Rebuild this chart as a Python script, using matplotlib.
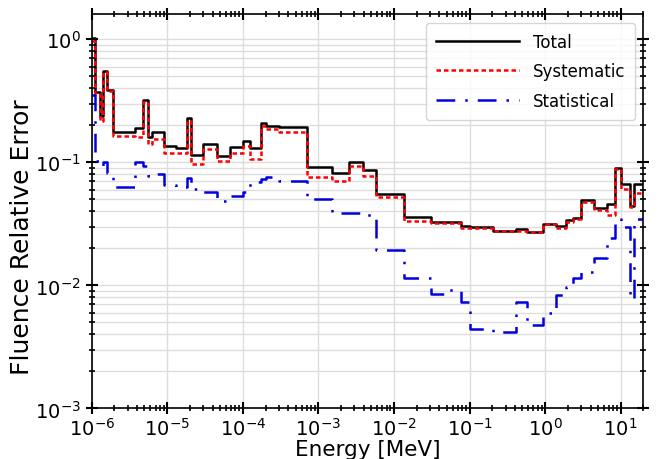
import numpy as np
import matplotlib
matplotlib.use("Agg")
import matplotlib.pyplot as plt
from matplotlib.ticker import LogLocator, NullFormatter

# Bin edges [MeV]
edges = [1.0e-6, 1.11e-6, 1.28e-6, 1.40e-6, 1.58e-6, 1.90e-6, 3.71e-6, 4.74e-6,
         5.52e-6, 6.23e-6, 9.0e-6, 1.30e-5, 1.81e-5, 2.05e-5, 2.95e-5, 4.53e-5,
         6.73e-5, 1.0e-4, 1.24e-4, 1.73e-4, 2.02e-4, 3.0e-4, 7.04e-4, 1.51e-3,
         2.54e-3, 3.88e-3, 5.78e-3, 1.36e-2, 3.09e-2, 5.19e-2, 7.71e-2, 0.1016,
         0.205, 0.413, 0.578, 0.942, 1.40, 1.90, 2.35, 3.0, 4.46, 6.62, 8.45,
         10.2, 13.4, 15.1, 20.0]

total = [1.02, 0.37, 0.237, 0.55, 0.39, 0.175, 0.19, 0.32, 0.16, 0.178, 0.137,
         0.131, 0.228, 0.115, 0.14, 0.112, 0.133, 0.149, 0.13, 0.207, 0.199,
         0.193, 0.0916, 0.0813, 0.1, 0.086, 0.0557, 0.0357, 0.0328, 0.0328,
         0.0305, 0.0297, 0.0277, 0.0285, 0.0273, 0.0317, 0.0303, 0.0337, 0.0355,
         0.049, 0.0428, 0.0455, 0.0905, 0.067, 0.044, 0.067]

systematic = [0.97, 0.357, 0.217, 0.54, 0.38, 0.164, 0.16, 0.31, 0.14, 0.154,
              0.12, 0.118, 0.217, 0.097, 0.128, 0.103, 0.12, 0.135, 0.106, 0.197,
              0.186, 0.178, 0.0765, 0.071, 0.0925, 0.0775, 0.0523, 0.0334, 0.032,
              0.032, 0.0293, 0.029, 0.0277, 0.0277, 0.0272, 0.0314, 0.029, 0.0327,
              0.0347, 0.048, 0.041, 0.0376, 0.0877, 0.061, 0.043, 0.0567]

statistical = [0.35, 0.102, 0.094, 0.1, 0.082, 0.063, 0.1, 0.093, 0.078, 0.08,
               0.066, 0.063, 0.075, 0.061, 0.057, 0.0485, 0.053, 0.057, 0.069,
               0.073, 0.0757, 0.0706, 0.05, 0.0385, 0.039, 0.0372, 0.0193, 0.01155,
               0.0085, 0.0092, 0.0073, 0.00445, 0.0042, 0.0073, 0.0048, 0.006,
               0.0083, 0.0097, 0.0114, 0.0128, 0.0168, 0.0241, 0.0348, 0.030,
               0.0077, 0.0348]

labels = ["Total", "Systematic", "Statistical"]

fig = plt.figure(figsize=(6.64, 4.60), dpi=100)
ax = fig.add_axes([0.138, 0.110, 0.831, 0.857])

x = np.array(edges)
def stepy(v):
    v = np.array(v)
    return np.append(v, v[-1])

ax.step(x, stepy(total), where='post', color='black', lw=1.8, label=labels[0])
ax.step(x, stepy(systematic), where='post', color='#ff0000', lw=1.8,
        linestyle=(0, (1.8, 1.2)), label=labels[1])
ax.step(x, stepy(statistical), where='post', color='#0000dd', lw=1.8,
        linestyle=(0, (7.5, 4, 1, 4)), label=labels[2])

ax.set_xscale('log')
ax.set_yscale('log')
ax.set_xlim(1e-6, 20)
ax.set_ylim(1e-3, 1.6)

ax.xaxis.set_major_locator(LogLocator(base=10, numticks=20))
ax.xaxis.set_minor_locator(LogLocator(base=10, subs=np.arange(2, 10), numticks=20))
ax.xaxis.set_minor_formatter(NullFormatter())
ax.yaxis.set_minor_formatter(NullFormatter())

ax.grid(True, which='major', axis='both', color='#dddddd', lw=1.0)
ax.grid(True, which='minor', axis='y', color='#dddddd', lw=1.0)
ax.set_axisbelow(True)

ax.tick_params(which='major', direction='inout', length=8, width=1.5,
               top=True, right=True, labelsize=14, pad=2)
ax.tick_params(which='minor', direction='inout', length=4, width=1.2,
               top=True, right=True)
ax.tick_params(axis='y', which='major', pad=4)
for s in ax.spines.values():
    s.set_linewidth(1.2)

ax.set_xlabel("Energy [MeV]", fontsize=15.5, labelpad=0)
ax.set_ylabel("Fluence Relative Error", fontsize=18)
ax.yaxis.set_label_coords(-0.104, 0.437)

leg = ax.legend(loc='upper right', fontsize=12, handlelength=5.0,
                labelspacing=0.7, borderpad=0.6, framealpha=0.8)

fig.savefig("out.png", dpi=100)
